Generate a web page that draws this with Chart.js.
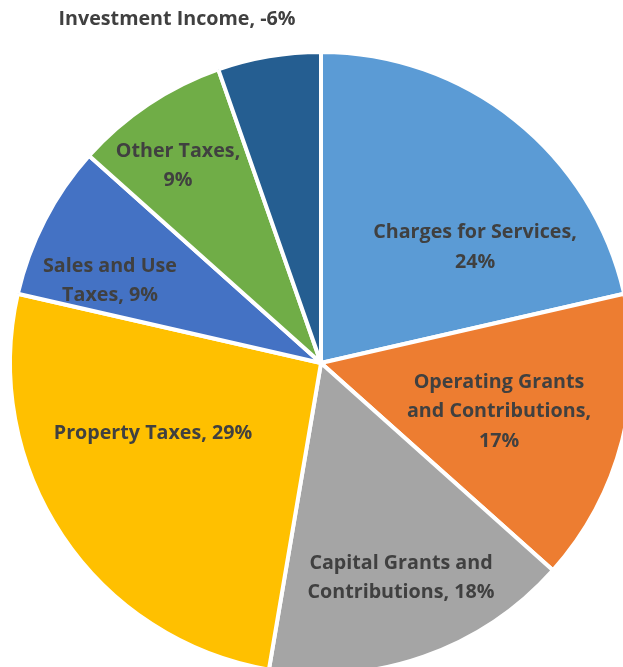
<!DOCTYPE html>
<html>
<head>
<meta charset="utf-8">
<script src="https://cdn.jsdelivr.net/npm/chart.js@4.4.1/dist/chart.umd.min.js"></script>
<style>
    html, body { margin: 0; padding: 0; background: #fff; }
    #wrap { position: relative; width: 623px; height: 667px; overflow: hidden; }
    #myChart { position: absolute; left: 0; top: 0; }
</style>
</head>
<body>
<div id="wrap"><canvas id="myChart" width="642" height="726"></canvas></div>
<script>
// revenue sources, percent of total
const categories = ['Charges for Services', 'Operating Grants and Contributions', 'Capital Grants and Contributions',
    'Property Taxes', 'Sales and Use Taxes', 'Other Taxes', 'Investment Income'];
const shares = [24, 17, 18, 29, 9, 9, -6];
const colors = ['#5B9BD5', '#ED7D31', '#A5A5A5', '#FFC000', '#4472C4', '#70AD47', '#255E91'];

// how each label is broken into lines, and where it sits
const labelLines = [
    ['Charges for Services,', '24%'],
    ['Operating Grants', 'and Contributions,', '17%'],
    ['Capital Grants and', 'Contributions, 18%'],
    ['Property Taxes, 29%'],
    ['Sales and Use', 'Taxes, 9%'],
    ['Other Taxes,', '9%'],
    ['Investment Income, -6%']
];
const labelPos = [[475, 247.5], [499, 411.5], [401, 578], [153, 433], [110, 281], [178, 166], [177, 19]];

const sliceLabels = {
    id: 'sliceLabels',
    afterDatasetsDraw: function (chart) {
        const ctx = chart.ctx;
        ctx.save();
        ctx.font = 'bold 19.7px "Open Sans"';
        ctx.fillStyle = '#404040';
        ctx.textAlign = 'center';
        ctx.textBaseline = 'middle';
        for (let i = 0; i < labelLines.length; i++) {
            const lines = labelLines[i];
            const top = labelPos[i][1] - (lines.length - 1) * 29.5 / 2;
            for (let j = 0; j < lines.length; j++) {
                ctx.fillText(lines[j], labelPos[i][0], top + j * 29.5);
            }
        }
        ctx.restore();
    }
};

const ctx = document.querySelector('#myChart').getContext('2d');
const myPieChart = new Chart(ctx, {
    type: 'pie',
    data: {
        labels: categories,
        datasets: [{
            data: shares,
            backgroundColor: colors,
            borderColor: '#ffffff',
            borderWidth: 4
        }]
    },
    options: {
        responsive: false,
        animation: false,
        radius: 311,
        plugins: {
            legend: { display: false },
            tooltip: { enabled: false }
        }
    },
    plugins: [sliceLabels]
});
</script>
</body>
</html>
